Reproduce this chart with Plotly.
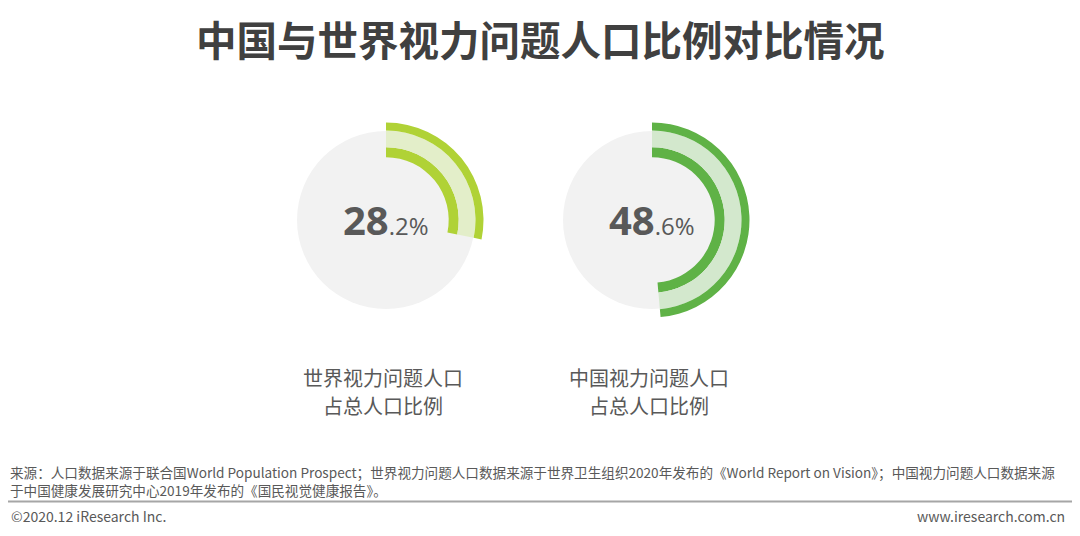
import plotly.graph_objects as go

# ---- data ----
label_line1 = ["世界视力问题人口", "中国视力问题人口"]
label_line2 = ["占总人口比例", "占总人口比例"]
values = [28.2, 48.6]
int_parts = ["28", "48"]
dec_parts = [".2%", ".6%"]
dark_colors = ["#b0d236", "#5fb246"]
light_colors = ["#e3eec9", "#d3e8cd"]

W, H = 1080, 536
centers_x = [386, 652]
center_y = 220
size = 200  # px of polar domain (radial range 0..100 -> 1px/unit)

fig = go.Figure()
for i, v in enumerate(values):
    pid = "polar" if i == 0 else f"polar{i+1}"
    sub = pid
    cx = centers_x[i]
    xd = [(cx - size / 2) / W, (cx + size / 2) / W]
    yd = [1 - (center_y + size / 2) / H, 1 - (center_y - size / 2) / H]
    fig.update_layout(**{pid: dict(
        domain=dict(x=xd, y=yd),
        bgcolor="rgba(0,0,0,0)",
        radialaxis=dict(visible=False, range=[0, 100]),
        angularaxis=dict(visible=False, rotation=90, direction="clockwise"),
        hole=0,
    )})
    ang = v / 100 * 360
    # gray background disk
    fig.add_trace(go.Barpolar(r=[89, 89], base=[0, 0], theta=[90, 270], width=[180, 180],
                              marker=dict(color="#f2f2f2", line=dict(width=0)),
                              subplot=sub, showlegend=False, hoverinfo="skip"))
    # value arcs: inner band, light band, outer band
    for base, thick, col in [(62.7, 10.0, dark_colors[i]), (72.7, 16.8, light_colors[i]), (89.5, 8.0, dark_colors[i])]:
        fig.add_trace(go.Barpolar(r=[thick], base=[base], theta=[ang / 2], width=[ang],
                                  marker=dict(color=col, line=dict(width=0)),
                                  subplot=sub, showlegend=False, hoverinfo="skip"))
    fig.add_annotation(x=cx / W, y=1 - center_y / H, xref="paper", yref="paper",
                       text=f"<b>{int_parts[i]}</b><span style='font-size:24px'>{dec_parts[i]}</span>",
                       showarrow=False, xanchor="center", yanchor="middle",
                       font=dict(family="Open Sans, Noto Sans CJK SC", size=40, color="#595959"))
    fig.add_annotation(x=(cx - 3) / W, y=1 - 377 / H, xref="paper", yref="paper",
                       text=label_line1[i], showarrow=False, xanchor="center", yanchor="middle",
                       font=dict(family="Noto Sans CJK SC", size=20, color="#595959"))
    fig.add_annotation(x=(cx - 3) / W, y=1 - 405 / H, xref="paper", yref="paper",
                       text=label_line2[i], showarrow=False, xanchor="center", yanchor="middle",
                       font=dict(family="Noto Sans CJK SC", size=20, color="#595959"))

# title
fig.add_annotation(x=0.5, y=1 - 38 / H, xref="paper", yref="paper",
                   text="<b>中国与世界视力问题人口比例对比情况</b>", showarrow=False,
                   xanchor="center", yanchor="middle",
                   font=dict(family="Noto Sans CJK SC", size=40.5, color="#404040"))

# footnote
note1 = "来源：人口数据来源于联合国World Population Prospect；世界视力问题人口数据来源于世界卫生组织2020年发布的《World Report on Vision》；中国视力问题人口数据来源"
note2 = "于中国健康发展研究中心2019年发布的《国民视觉健康报告》。"
fig.add_annotation(x=9 / W, y=1 - 472 / H, xref="paper", yref="paper", text=note1,
                   showarrow=False, xanchor="left", yanchor="middle", borderpad=0,
                   font=dict(family="Noto Sans CJK SC", size=13.6, color="#595959"))
fig.add_annotation(x=9 / W, y=1 - 490 / H, xref="paper", yref="paper", text=note2,
                   showarrow=False, xanchor="left", yanchor="middle", borderpad=0,
                   font=dict(family="Noto Sans CJK SC", size=13.6, color="#595959"))
fig.add_shape(type="line", xref="paper", yref="paper", x0=8 / W, x1=1072 / W,
              y0=1 - 501.5 / H, y1=1 - 501.5 / H, line=dict(color="#a6a6a6", width=2))
fig.add_annotation(x=9 / W, y=1 - 516 / H, xref="paper", yref="paper", text="©2020.12 iResearch Inc.",
                   showarrow=False, xanchor="left", yanchor="middle",
                   font=dict(family="Noto Sans CJK SC", size=14, color="#595959"))
fig.add_annotation(x=1067 / W, y=1 - 516 / H, xref="paper", yref="paper", text="www.iresearch.com.cn",
                   showarrow=False, xanchor="right", yanchor="middle",
                   font=dict(family="Noto Sans CJK SC", size=14, color="#595959"))

fig.update_layout(width=W, height=H, margin=dict(l=0, r=0, t=0, b=0),
                  paper_bgcolor="white", plot_bgcolor="white", showlegend=False)
fig.write_html("out.html", config={"displayModeBar": False})
